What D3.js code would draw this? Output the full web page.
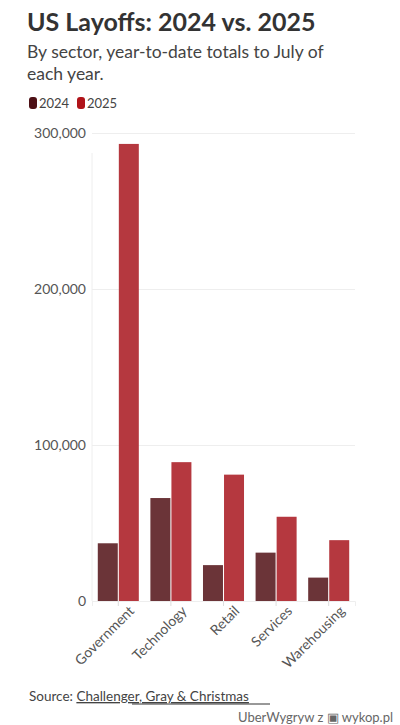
<!DOCTYPE html>
<html><head><meta charset="utf-8">
<script src="https://cdn.jsdelivr.net/npm/d3@7"></script>
<style>body{margin:0;background:#fff;font-family:Lato,"Open Sans",sans-serif}</style>
</head><body><svg id="c" width="400" height="725"></svg>
<script>
const categories = ['Government', 'Technology', 'Retail', 'Services', 'Warehousing'];
const series2024 = [37000, 66000, 23000, 31000, 15000];
const series2025 = [293000, 89000, 81000, 54000, 39000];
const yTicks = [0, 100000, 200000, 300000];

const svg = d3.select('#c');
const m = { left: 92, right: 355, top: 133, bottom: 601 };

svg.append('text').attr('x', 27).attr('y', 31).attr('font-size', 25).attr('font-weight', 700)
  .attr('fill', '#333').text('US Layoffs: 2024 vs. 2025');
svg.append('text').attr('x', 27).attr('y', 58).attr('font-size', 17.5).attr('fill', '#444')
  .text('By sector, year-to-date totals to July of');
svg.append('text').attr('x', 27).attr('y', 80).attr('font-size', 17.5).attr('fill', '#444')
  .text('each year.');

const c24 = '#6b3438', c25 = '#b5383f';
[['2024', '#4d1015', 29], ['2025', '#b01319', 77]].forEach(([t, col, x]) => {
  svg.append('rect').attr('x', x).attr('y', 97).attr('width', 8).attr('height', 12).attr('rx', 3).attr('fill', col);
  svg.append('text').attr('x', x + 10).attr('y', 108).attr('font-size', 13).attr('fill', '#444').text(t);
});

const y = d3.scaleLinear().domain([0, 300000]).range([m.bottom, m.top]);
const x = d3.scaleBand().domain(categories).range([m.left, m.right]).paddingInner(0.22).paddingOuter(0.11);
const xi = d3.scaleBand().domain(['a', 'b']).range([0, x.bandwidth()]).paddingInner(0.05);

const grid = svg.append('g').attr('transform', `translate(${m.left},0)`)
  .call(d3.axisLeft(y).tickValues(yTicks).tickSize(-(m.right - m.left)).tickPadding(6).tickFormat(d3.format(',')));
grid.select('.domain').remove();
grid.selectAll('line').attr('stroke', '#eee');
grid.selectAll('text').attr('font-size', 14).attr('fill', '#555').attr('font-family', 'Lato,sans-serif');
svg.append('line').attr('x1', m.left).attr('x2', m.left).attr('y1', m.top + 20).attr('y2', m.bottom).attr('stroke', '#eee');

const g = svg.append('g');
categories.forEach((cat, i) => {
  g.append('rect').attr('x', x(cat) + xi('a')).attr('width', xi.bandwidth())
    .attr('y', y(series2024[i])).attr('height', y(0) - y(series2024[i])).attr('fill', c24);
  g.append('rect').attr('x', x(cat) + xi('b')).attr('width', xi.bandwidth())
    .attr('y', y(series2025[i])).attr('height', y(0) - y(series2025[i])).attr('fill', c25);
});

const xa = svg.append('g').attr('transform', `translate(0,${m.bottom})`)
  .call(d3.axisBottom(x).tickSize(5).tickPadding(2));
xa.select('.domain').attr('stroke', '#eee');
xa.selectAll('line').attr('stroke', '#ddd');
xa.selectAll('text').attr('font-size', 14).attr('fill', '#555').attr('font-family', 'Lato,sans-serif')
  .attr('text-anchor', 'end').attr('dx', '0.3em').attr('dy', '0.9em').attr('transform', 'rotate(-45)');

svg.append('text').attr('x', 29).attr('y', 701).attr('font-size', 13.5).attr('fill', '#444')
  .html('Source: <tspan text-decoration="underline">Challenger, Gray &amp; Christmas</tspan>');
svg.append('line').attr('x1', 132).attr('x2', 270).attr('y1', 704).attr('y2', 704).attr('stroke', '#333');
svg.append('text').attr('x', 393).attr('y', 722).attr('text-anchor', 'end').attr('font-size', 13)
  .attr('fill', '#666').text('UberWygryw z ▣ wykop.pl');
</script></body></html>
